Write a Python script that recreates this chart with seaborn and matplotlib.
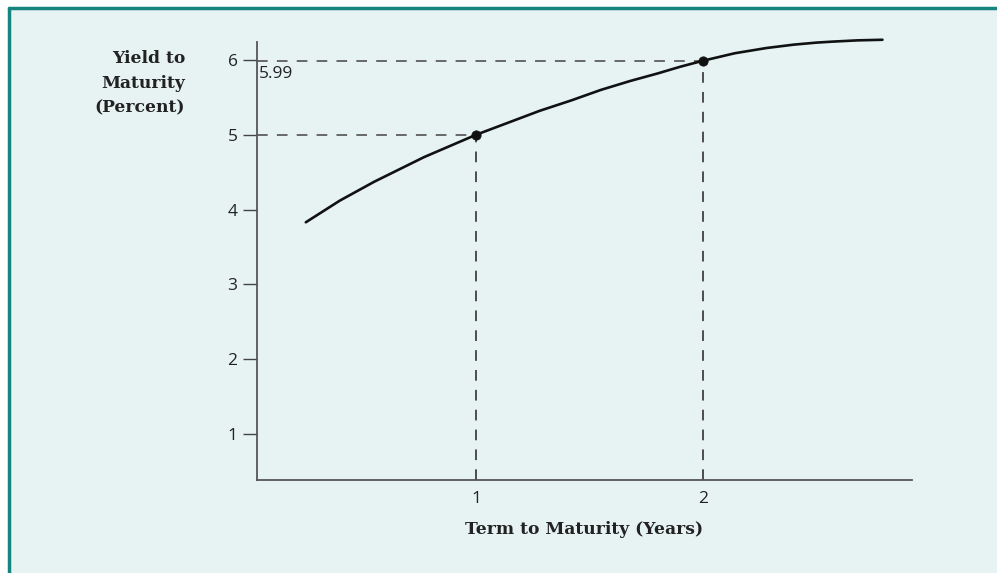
import numpy as np
import pandas as pd
import matplotlib.pyplot as plt
from matplotlib.lines import Line2D
from matplotlib.patches import Rectangle
import seaborn as sns

sns.set_style("white")
plt.rcParams['font.family'] = ['Open Sans', 'DejaVu Sans']

# yield curve
term = [0.25, 0.40, 0.55, 0.77, 1.00, 1.14, 1.28, 1.42, 1.55, 1.68, 1.80, 1.90, 2.00,
        2.14, 2.28, 2.40, 2.50, 2.57, 2.68, 2.79]
yld = [3.83, 4.12, 4.37, 4.70, 5.00, 5.16, 5.32, 5.46, 5.60, 5.72, 5.82, 5.91, 5.99,
       6.09, 6.16, 6.205, 6.232, 6.245, 6.262, 6.27]

# highlighted bonds
pt_term = [1, 2]
pt_yld = [5.0, 5.99]

y_ticks = [1, 2, 3, 4, 5, 6]
x_ticks = [1, 2]

bg = "#e7f3f3"
border = "#17857f"

fig = plt.figure(figsize=(9.97, 5.73), dpi=100)
fig.patch.set_facecolor("white")

# panel background + teal frame (top and left only)
fig.add_artist(Rectangle((9 / 997, 0), 1, 1 - 8 / 573, transform=fig.transFigure,
                         facecolor=bg, edgecolor="none", zorder=0))
fig.add_artist(Line2D([9 / 997, 1], [1 - 8 / 573, 1 - 8 / 573], transform=fig.transFigure,
                      color=border, lw=2.5))
fig.add_artist(Line2D([9 / 997, 9 / 997], [0, 1 - 8 / 573], transform=fig.transFigure,
                      color=border, lw=2.5))

ax = fig.add_axes([257 / 997, 1 - 480 / 573, 655 / 997, 438 / 573])
ax.set_facecolor("none")

df = pd.DataFrame({"term": term, "yld": yld})
sns.lineplot(data=df, x="term", y="yld", ax=ax, color="#111111", lw=1.9, sort=True,
             clip_on=False)

# dashed guides
for tx, ty in zip(pt_term, pt_yld):
    ax.plot([0.035, tx], [ty, ty], ls=(0, (7, 6)), color="#444444", lw=1.1, zorder=1)
    ax.plot([tx, tx], [0.385, ty], ls=(0, (7, 6)), color="#222222", lw=1.1, zorder=1)

sns.scatterplot(x=pt_term, y=pt_yld, ax=ax, color="#111111", s=45, edgecolor="#111111",
                zorder=5, clip_on=False)

ax.set_xlim(0.035, 2.92)
ax.set_ylim(0.385, 6.24)
ax.set_xticks(x_ticks)
ax.set_yticks(y_ticks)
ax.tick_params(axis="y", direction="out", length=10, width=1, color="#444444",
               labelsize=12.5, pad=4, left=True, labelcolor="#222222")
ax.tick_params(axis="x", length=0, labelsize=12.5, pad=8, labelcolor="#222222")

for s in ["top", "right"]:
    ax.spines[s].set_visible(False)
for s in ["left", "bottom"]:
    ax.spines[s].set_color("#555555")
    ax.spines[s].set_linewidth(1.3)

ax.text(0.045, 5.92, "5.99", fontsize=12.5, ha="left", va="top", color="#222222")

ax.set_xlabel("Term to Maturity (Years)", fontsize=12.3, fontweight="bold",
              family="DejaVu Serif", labelpad=10, color="#222222")
ax.set_ylabel("")
fig.text(185 / 997, 1 - 50 / 573, "Yield to\nMaturity\n(Percent)", ha="right", va="top",
         multialignment="right", fontsize=12.3, fontweight="bold", family="DejaVu Serif",
         linespacing=1.6, color="#222222")

plt.savefig("out.png", dpi=100, facecolor=fig.get_facecolor())
